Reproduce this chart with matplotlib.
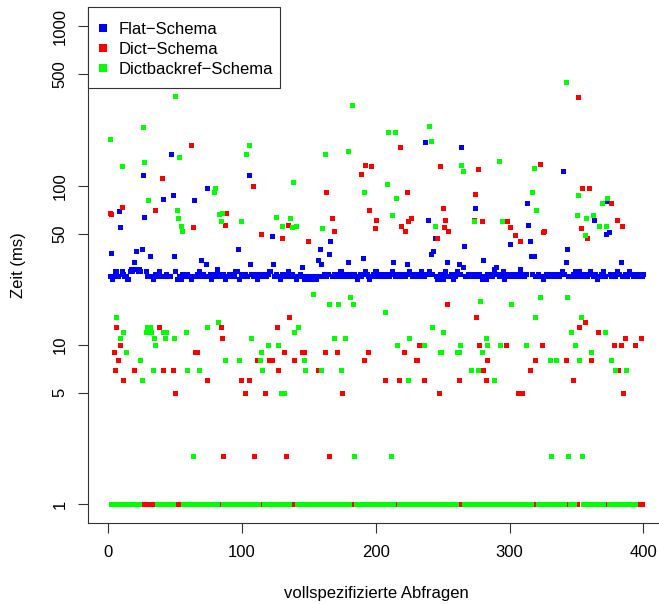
import matplotlib
matplotlib.use("Agg")
import matplotlib.pyplot as plt
from matplotlib.lines import Line2D
from matplotlib.patches import Rectangle
from matplotlib.ticker import NullLocator

plt.rcParams['font.family'] = ['Liberation Sans', 'DejaVu Sans']

# Laufzeiten der vollspezifizierten Abfragen in ms
n_flat = 400
n_dict = 399
n_dictback = 394

flat_ms = [
    27, 38, 26, 27, 29, 29, 27, 69, 55, 29, 28, 27, 27, 26, 26, 29, 30, 29, 33, 30,
    39, 29, 30, 29, 40, 117, 64, 29, 27, 27, 36, 27, 26, 27, 28, 27, 27, 29, 27, 27,
    83, 27, 28, 27, 27, 27, 157, 87, 36, 29, 26, 26, 27, 26, 28, 27, 27, 27, 28, 27,
    27, 26, 27, 81, 27, 28, 27, 29, 34, 27, 28, 27, 32, 97, 27, 28, 26, 27, 27, 28,
    30, 27, 28, 27, 27, 28, 26, 27, 27, 28, 27, 27, 28, 27, 29, 29, 40, 26, 27, 28,
    27, 28, 27, 27, 117, 32, 28, 27, 27, 28, 26, 27, 28, 27, 27, 28, 27, 27, 28, 29,
    29, 48, 32, 27, 28, 27, 27, 26, 27, 28, 27, 27, 28, 29, 27, 27, 28, 27, 27, 26,
    27, 27, 28, 27, 31, 26, 26, 27, 27, 26, 26, 26, 27, 26, 26, 27, 34, 40, 32, 27,
    28, 27, 27, 28, 37, 45, 27, 27, 28, 27, 27, 28, 29, 29, 27, 27, 28, 27, 33, 27,
    28, 27, 27, 28, 27, 26, 27, 28, 27, 35, 28, 29, 28, 27, 26, 27, 27, 28, 29, 29,
    27, 27, 28, 27, 28, 27, 27, 28, 27, 27, 28, 29, 33, 27, 28, 27, 27, 28, 27, 27,
    28, 27, 32, 28, 29, 28, 27, 27, 28, 27, 27, 27, 28, 29, 28, 27, 189, 28, 61, 29,
    37, 28, 39, 47, 27, 26, 26, 28, 27, 26, 28, 29, 33, 27, 27, 28, 27, 26, 27, 28,
    29, 32, 28, 176, 31, 42, 27, 27, 28, 27, 28, 28, 27, 72, 28, 27, 28, 27, 26, 34,
    27, 26, 28, 27, 28, 27, 27, 30, 28, 31, 28, 27, 27, 28, 29, 26, 27, 28, 27, 43,
    27, 28, 27, 28, 27, 27, 28, 30, 28, 27, 27, 28, 78, 57, 45, 36, 28, 36, 27, 27,
    28, 27, 27, 27, 26, 27, 28, 27, 27, 28, 27, 28, 27, 27, 28, 28, 27, 28, 29, 124,
    28, 33, 40, 27, 27, 27, 28, 27, 29, 27, 28, 29, 28, 27, 27, 28, 27, 27, 28, 29,
    28, 27, 61, 28, 26, 27, 27, 28, 27, 29, 27, 50, 80, 51, 28, 27, 27, 28, 27, 29,
    28, 28, 33, 27, 27, 28, 27, 27, 29, 28, 28, 27, 27, 28, 27, 27, 28, 27, 27, 28,
]

# Dict-Schema: nur die Abfragen, die länger als 1 ms dauern (Nummer: ms)
dict_slow = {
    1: 67, 2: 66, 4: 9, 5: 7, 6: 13, 7: 8, 9: 10, 10: 73, 11: 6, 19: 7,
    35: 70, 38: 13, 40: 111, 41: 7, 48: 7, 50: 5, 62: 181, 63: 55, 65: 9, 66: 9,
    74: 6, 84: 13, 85: 11, 86: 2, 87: 57, 88: 67, 99: 6, 102: 5, 105: 6, 108: 100,
    109: 2, 111: 8, 114: 50, 117: 5, 120: 8, 122: 8, 126: 13, 127: 7, 130: 47, 131: 9,
    133: 2, 134: 57, 135: 15, 139: 8, 145: 9, 146: 9, 149: 45, 157: 7, 162: 9, 163: 91,
    165: 2, 167: 63, 169: 52, 171: 9, 175: 5, 189: 119, 191: 8, 192: 134, 194: 9, 195: 70,
    196: 132, 199: 54, 200: 61, 207: 6, 217: 6, 218: 176, 219: 56, 221: 9, 222: 52, 223: 91,
    224: 60, 226: 63, 230: 8, 231: 8, 232: 10, 236: 6, 246: 47, 247: 5, 248: 132, 250: 72,
    251: 55, 252: 61, 253: 18, 254: 52, 262: 6, 273: 61, 274: 89, 275: 15, 276: 128, 277: 10,
    279: 60, 280: 7, 282: 6, 283: 8, 297: 10, 298: 60, 300: 55, 304: 49, 306: 5, 308: 45,
    309: 5, 315: 7, 319: 8, 323: 136, 324: 10, 325: 51, 326: 52, 342: 8, 347: 6, 351: 361,
    352: 13, 353: 54, 354: 97, 356: 14, 358: 47, 359: 97, 361: 8, 366: 12, 376: 78, 378: 10,
    380: 61, 381: 7, 383: 10, 384: 56, 385: 5, 386: 11, 394: 10, 398: 11,
}

# Dictbackref-Schema: nur die Abfragen, die länger als 1 ms dauern (Nummer: ms)
dictback_slow = {
    1: 197, 6: 15, 9: 11, 10: 132, 11: 12, 13: 9, 24: 8, 25: 6, 26: 234, 27: 140,
    28: 12, 29: 13, 30: 81, 31: 13, 32: 12, 33: 7, 34: 11, 35: 10, 41: 12, 42: 11, 43: 12,
    49: 11, 50: 366, 51: 70, 52: 63, 53: 152, 54: 56, 55: 52, 58: 12, 59: 7, 63: 2, 68: 7,
    74: 13, 79: 91, 80: 97, 82: 14, 83: 66, 84: 60, 85: 67, 87: 8, 98: 8, 99: 60,
    103: 157, 105: 181, 107: 11, 113: 8, 114: 9, 115: 7, 119: 10, 125: 64, 127: 10, 129: 5,
    130: 56, 131: 5, 136: 63, 137: 55, 138: 105, 139: 12, 140: 56, 142: 13, 146: 8, 147: 7,
    153: 21, 159: 7, 160: 54, 162: 159, 165: 18, 169: 11, 172: 18, 174: 7, 177: 11, 179: 166,
    181: 20, 182: 322, 183: 18, 184: 2, 191: 91, 207: 16, 208: 102, 209: 218, 211: 2, 212: 65,
    214: 218, 215: 84, 216: 10, 224: 6, 225: 11, 236: 10, 240: 238, 241: 192, 242: 13, 244: 56,
    248: 9, 249: 9, 250: 12, 261: 9, 262: 9, 263: 10, 264: 134, 265: 124, 271: 7, 273: 60,
    276: 7, 278: 19, 279: 9, 282: 11, 283: 10, 288: 6, 292: 142, 293: 10, 294: 60, 301: 18,
    312: 10, 317: 91, 318: 130, 319: 15, 320: 70, 323: 20, 330: 8, 331: 2, 335: 8, 342: 448,
    343: 20, 344: 2, 346: 12, 349: 10, 350: 65, 351: 87, 352: 8, 353: 15, 354: 2, 356: 49,
    357: 63, 361: 9, 362: 65, 367: 56, 369: 78, 371: 12, 372: 56, 373: 84, 376: 8, 379: 7,
    387: 7,
}

labels = ['Flat\u2212Schema', 'Dict\u2212Schema', 'Dictbackref\u2212Schema']
colors = ['#0000ff', '#ff0000', '#00ff00']

dict_ms = [dict_slow.get(q, 1) for q in range(1, n_dict + 1)]
dictback_ms = [dictback_slow.get(q, 1) for q in range(1, n_dictback + 1)]


def px(x, y):
    # Pixelposition (von oben links) -> Figurkoordinaten
    return x / 659, 1 - y / 604


fig = plt.figure(figsize=(6.59, 6.04), dpi=100)
ax = fig.add_axes([88.3 / 659, 80.7 / 604, 576.5 / 659, 516 / 604])

for values, col in zip([flat_ms, dict_ms, dictback_ms], colors):
    ax.plot(range(1, len(values) + 1), values, linestyle='none', marker='s',
            markersize=3.6, markerfacecolor=col, markeredgewidth=0, clip_on=False)

ax.set_yscale('log')
ax.set_ylim(10 ** -0.12, 10 ** 3.12)
ax.set_xlim(-15, 416)

ax.set_xticks([0, 100, 200, 300, 400])
ax.set_yticks([1, 5, 10, 50, 100, 500, 1000])
ax.set_yticklabels(['1', '5', '10', '50', '100', '500', '1000'])
ax.yaxis.set_minor_locator(NullLocator())
ax.tick_params(axis='both', length=7.2, width=0.8, color='#333333', labelsize=12)
ax.tick_params(axis='x', pad=8.6)
ax.tick_params(axis='y', pad=7.6)
for lab in ax.get_yticklabels():
    lab.set_rotation(90)
    lab.set_verticalalignment('center')

for side in ['top', 'right']:
    ax.spines[side].set_visible(False)
for side in ['left', 'bottom']:
    ax.spines[side].set_linewidth(0.8)
    ax.spines[side].set_color('#333333')

fig.text(*px(18, 265), 'Zeit (ms)', rotation=90,
         ha='center', va='center', fontsize=12)
fig.text(*px(376, 598), 'vollspezifizierte Abfragen',
         ha='center', va='baseline', fontsize=12)

# Legende oben links, direkt an der Achsenecke
x0, y0 = px(88.3, 87.7)
x1, y1 = px(280, 7.3)
fig.add_artist(Rectangle((x0, y0), x1 - x0, y1 - y0, transform=fig.transFigure,
                         facecolor='white', edgecolor='#333333', linewidth=0.8,
                         zorder=5))
for k, (lab, col) in enumerate(zip(labels, colors)):
    mx, my = px(103, 27.7 + 20 * k)
    fig.add_artist(Line2D([mx], [my], transform=fig.transFigure, linestyle='none',
                          marker='s', markersize=5.8, markerfacecolor=col,
                          markeredgewidth=0, zorder=6))
    fig.text(*px(118.3, 34 + 20 * k), lab, ha='left', va='baseline',
             fontsize=12, zorder=6)

fig.savefig('out.png', dpi=100)
